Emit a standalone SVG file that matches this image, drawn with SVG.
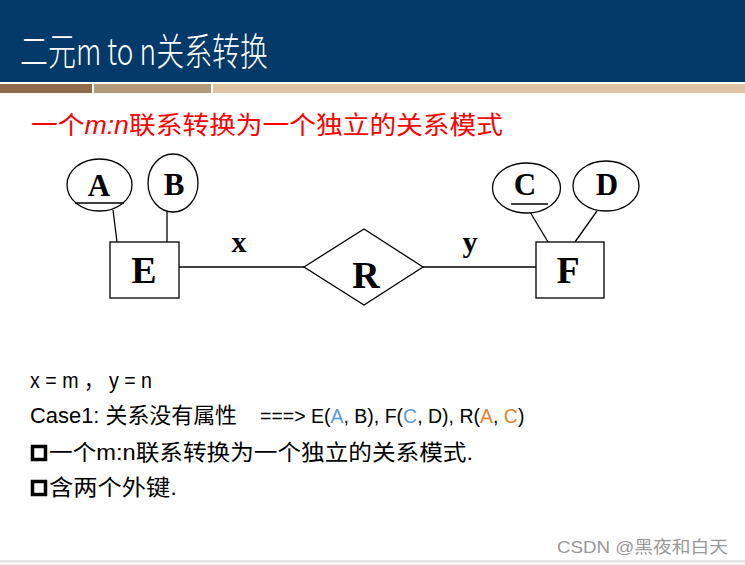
<svg xmlns="http://www.w3.org/2000/svg" width="745" height="565" viewBox="0 0 745 565">
<style>
.ln{stroke:#000;stroke-width:1.3;fill:none}
.shp{stroke:#000;stroke-width:1.3;fill:#fff}
.lbl{font-family:"Liberation Serif",serif;font-weight:bold;fill:#000;text-anchor:middle}
.body{font-family:"Liberation Sans","Noto Sans CJK SC",sans-serif;font-size:22px;fill:#000}
.bl{fill:#5B9BD5}
.or{fill:#ED7D31}
</style>
<rect x="0" y="0" width="745" height="565" fill="#fff"/>
<g id="header">
<rect x="0" y="0" width="745" height="82" fill="#033A69"/>
<rect x="0" y="84" width="92" height="9" fill="#8F6D4C"/>
<rect x="94" y="84" width="117" height="9" fill="#B59A79"/>
<rect x="213" y="84" width="532" height="9" fill="#DFC5A6"/>
<text x="20" y="65" font-family="'Noto Sans CJK SC',sans-serif" font-weight="300" font-size="38" fill="#fff" textLength="248" lengthAdjust="spacingAndGlyphs">二元m to n关系转换</text>
</g>
<text x="31" y="134" font-family="'Liberation Sans','Noto Sans CJK SC',sans-serif" font-size="25" fill="#FF0000" textLength="472" lengthAdjust="spacingAndGlyphs">一个<tspan font-style="italic">m:n</tspan>联系转换为一个独立的关系模式</text>
<g id="connectors">
<line class="ln" x1="113" y1="210" x2="117" y2="242"/>
<line class="ln" x1="167" y1="212" x2="167" y2="242"/>
<line class="ln" x1="179" y1="267" x2="304" y2="267"/>
<line class="ln" x1="423" y1="267" x2="536" y2="267"/>
<line class="ln" x1="530" y1="212" x2="548" y2="242"/>
<line class="ln" x1="597" y1="211" x2="575" y2="242"/>
<text class="lbl" x="239" y="252" font-size="30">x</text>
<text class="lbl" x="470" y="252" font-size="30">y</text>
</g>
<g id="A">
<ellipse class="shp" cx="99.5" cy="185" rx="32.5" ry="26"/>
<line class="ln" x1="75" y1="203" x2="124" y2="203"/>
<text class="lbl" x="99" y="196" font-size="31">A</text>
</g>
<g id="B">
<ellipse class="shp" cx="173" cy="183" rx="25" ry="29"/>
<text class="lbl" x="174" y="195" font-size="31">B</text>
</g>
<g id="E">
<rect class="shp" x="110" y="242" width="69" height="56"/>
<text class="lbl" x="144" y="283" font-size="38">E</text>
</g>
<g id="R">
<polygon class="shp" points="304,267 364,229 423,267 364,305"/>
<text class="lbl" x="366" y="288" font-size="38">R</text>
</g>
<g id="F">
<rect class="shp" x="536" y="242" width="68" height="56"/>
<text class="lbl" x="568" y="283" font-size="38">F</text>
</g>
<g id="C">
<ellipse class="shp" cx="526.5" cy="188" rx="34" ry="25"/>
<line class="ln" x1="511" y1="204" x2="548" y2="204"/>
<text class="lbl" x="525" y="195" font-size="31">C</text>
</g>
<g id="D">
<ellipse class="shp" cx="606" cy="186" rx="33" ry="25"/>
<text class="lbl" x="607" y="195" font-size="31">D</text>
</g>
<g id="notes">
<text class="body" x="30" y="388" textLength="122" lengthAdjust="spacingAndGlyphs">x = m ， y = n</text>
<text class="body" x="30" y="423" textLength="207" lengthAdjust="spacingAndGlyphs">Case1: 关系没有属性</text>
<text class="body" x="260" y="423" style="font-size:19.5px">===&gt; E(<tspan class="bl">A</tspan>, B), F(<tspan class="bl">C</tspan>, D), R(<tspan class="or">A</tspan>, <tspan class="or">C</tspan>)</text>
<rect x="32.5" y="446.5" width="13" height="13" fill="none" stroke="#000" stroke-width="3.5"/>
<text class="body" x="49" y="460" textLength="424" lengthAdjust="spacingAndGlyphs">一个m:n联系转换为一个独立的关系模式.</text>
<rect x="32.5" y="481.5" width="13" height="13" fill="none" stroke="#000" stroke-width="3.5"/>
<text class="body" x="49" y="495" textLength="128" lengthAdjust="spacingAndGlyphs">含两个外键.</text>
</g>
<text x="557" y="553" font-family="'Liberation Sans','Noto Sans CJK SC',sans-serif" font-size="17" fill="#999" textLength="171" lengthAdjust="spacingAndGlyphs">CSDN @黑夜和白天</text>
<rect x="0" y="561" width="745" height="4" fill="#F4F4F4"/>
<line x1="0" y1="561" x2="745" y2="561" stroke="#CCCCCC" stroke-width="1"/>
</svg>
